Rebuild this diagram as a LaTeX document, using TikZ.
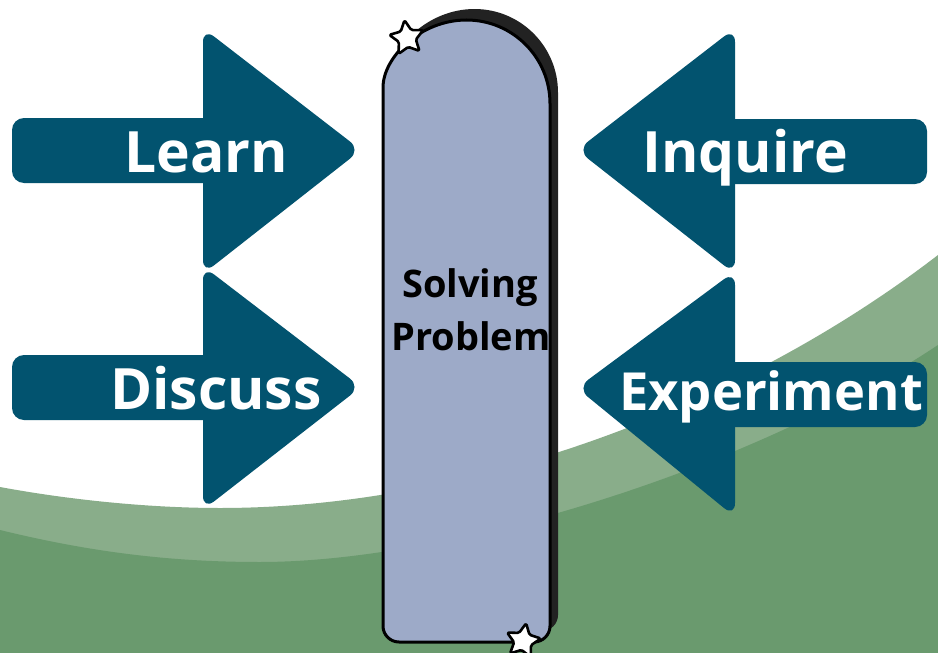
\documentclass[tikz,border=0pt]{standalone}
\usepackage{fontspec}
\setmainfont{Open Sans}
\definecolor{teal}{HTML}{02536F}
\definecolor{lgreen}{HTML}{89AD8A}
\definecolor{dgreen}{HTML}{6A9A6E}
\definecolor{pillar}{HTML}{9DAAC8}
\definecolor{shadowc}{HTML}{222222}
\tikzset{
  arrowfill/.style={fill=teal},
  lbl/.style={text=white, font=\bfseries\fontsize{57}{60}\selectfont, anchor=base, inner sep=0pt},
  lblsmall/.style={lbl, font=\bfseries\fontsize{52.5}{56}\selectfont},
  ctr/.style={text=black, font=\bfseries\fontsize{38}{40}\selectfont, anchor=base, inner sep=0pt},
  starstyle/.style={draw=black, line width=2.6, fill=white, rounded corners=1.5, line join=round}
}
\newcommand\mystar[3]{%
  \begin{scope}[shift={(#1,#2)}, rotate=#3]
    \draw[starstyle] (-90:18) -- (-54:9) -- (-18:18) -- (18:9) -- (54:18) -- (90:9) -- (126:18) -- (162:9) -- (198:18) -- (234:9) -- cycle;
  \end{scope}}
\begin{document}
\begin{tikzpicture}[x=1pt,y=-1pt]
\useasboundingbox (0,0) rectangle (938,653);
\clip (0,0) rectangle (938,653);
\fill[white] (0,0) rectangle (938,653);
% background bands
\fill[lgreen] (0,487) .. controls (70,500) and (150,508) .. (220,508) .. controls (480,508) and (750,400) .. (938,255) -- (938,653) -- (0,653) -- cycle;
\fill[dgreen] (0,530) .. controls (90,552) and (170,562) .. (260,562) .. controls (450,562) and (750,470) .. (938,345) -- (938,653) -- (0,653) -- cycle;
% Learn arrow (right)
\fill[arrowfill, rounded corners=12] (12,118) rectangle (220,183);
\fill[arrowfill, rounded corners=14] (203,28) -- (361,150) -- (203,274) -- cycle;
% Discuss arrow (right)
\fill[arrowfill, rounded corners=12] (12,355) rectangle (220,420);
\fill[arrowfill, rounded corners=14] (203,266) -- (361,387) -- (203,510) -- cycle;
% Inquire arrow (left)
\fill[arrowfill, rounded corners=12] (720,119) rectangle (927,184);
\fill[arrowfill, rounded corners=14] (735,28) -- (577,150) -- (735,274) -- cycle;
% Experiment arrow (left)
\fill[arrowfill, rounded corners=12] (720,362) rectangle (927,427);
\fill[arrowfill, rounded corners=14] (735,271) -- (577,388) -- (735,517) -- cycle;
% labels
\node[lbl] (learn) at (206,172) {Learn};
\node[lbl] (discuss) at (216,409) {Discuss};
\node[lbl] (inquire) at (745,172) {Inquire};
\node[lblsmall] (experiment) at (771,410) {Experiment};
% pillar shadow
\fill[shadowc] (391,92.5) arc[start angle=180, end angle=360, radius=83.5] [rounded corners=16] -- (558,631) -- (391,631) -- cycle;
% pillar
\draw[fill=pillar, line width=3] (383,103.5) arc[start angle=180, end angle=360, radius=83.5] [rounded corners=16] -- (550,642) -- (383,642) -- cycle;
\node[ctr] (solving) at (470,297) {Solving};
\node[ctr] (problem) at (471,350) {Problem};
% stars
\mystar{407}{38}{8}
\mystar{523}{641}{-10}
\end{tikzpicture}
\end{document}
